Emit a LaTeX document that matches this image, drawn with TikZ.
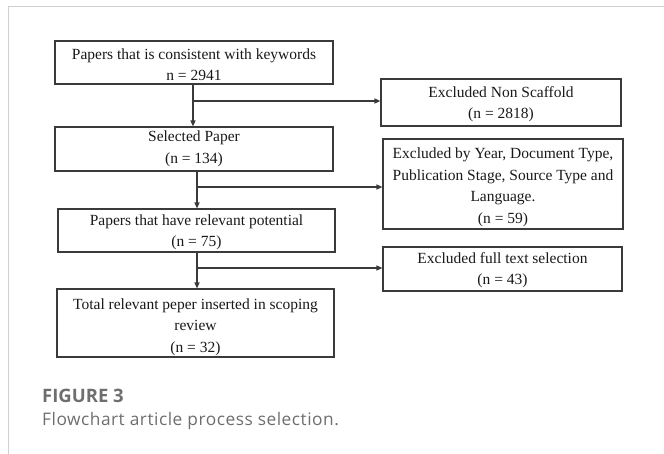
\documentclass[tikz,border=0pt]{standalone}
\usepackage{fontspec}
\setmainfont{Liberation Serif}
\newfontfamily\capfont{Open Sans}
\usetikzlibrary{arrows.meta,calc}
\definecolor{linec}{HTML}{3C3A38}
\definecolor{framec}{HTML}{D0D0D0}
\definecolor{capc}{HTML}{6E6E6E}
\begin{document}
\begin{tikzpicture}[x=1pt,y=-1pt,
  box/.style={draw=linec,line width=1.1pt,rectangle,inner sep=0pt,align=center,
    font=\fontsize{15.5}{21.5}\selectfont,text=black!90},
  arr/.style={draw=linec,line width=1.3pt,-{Triangle[length=6pt,width=5pt]}}]
\useasboundingbox (0,0) rectangle (664,454);
\draw[framec,line width=1pt] (8,454) -- (8,7) -- (664,7);
\node[box,minimum width=278pt,minimum height=43pt,text height=37pt] (b1) at (194,62.5) {Papers that is consistent with keywords\\n = 2941};
\node[box,minimum width=278pt,minimum height=44pt,text height=31.9pt] (b2) at (194,149) {Selected Paper\\(n = 134)};
\node[box,minimum width=277pt,minimum height=43pt,text height=35.7pt] (b3) at (196.5,230.5) {Papers that have relevant potential\\(n = 75)};
\node[box,minimum width=277pt,minimum height=68pt,text height=61.3pt] (b4) at (195.5,323) {Total relevant peper inserted in scoping\\review\\(n = 32)};
\node[box,minimum width=240pt,minimum height=47pt,text height=36.3pt] (r1) at (501,102.5) {Excluded Non Scaffold\\(n = 2818)};
\node[box,minimum width=240pt,minimum height=90pt,text height=81.9pt] (r2) at (503,184) {Excluded by Year, Document Type,\\Publication Stage, Source Type and\\Language.\\(n = 59)};
\node[box,minimum width=239pt,minimum height=44pt,text height=35.3pt] (r3) at (502.5,269) {Excluded full text selection\\(n = 43)};
\coordinate (j1) at (193,101);
\coordinate (j2) at (197,187);
\coordinate (j3) at (197,268);
\draw[arr] (b1.south -| j1) -- (b2.north -| j1);
\draw[arr] (j1) -- (j1 -| r1.west);
\draw[arr] (b2.south -| j2) -- (b3.north -| j2);
\draw[arr] (j2) -- (j2 -| r2.west);
\draw[arr] (b3.south -| j3) -- (b4.north -| j3);
\draw[arr] (j3) -- (j3 -| r3.west);
\node[anchor=base west,inner sep=0pt,font=\capfont\bfseries\fontsize{18.5}{20}\selectfont,text=capc] (cap1) at (42,402) {FIGURE 3};
\node[anchor=base west,inner sep=0pt,font=\capfont\fontsize{17.3}{20}\selectfont\addfontfeature{LetterSpace=3},text=capc] (cap2) at (42,425) {Flowchart article process selection.};
\end{tikzpicture}
\end{document}
